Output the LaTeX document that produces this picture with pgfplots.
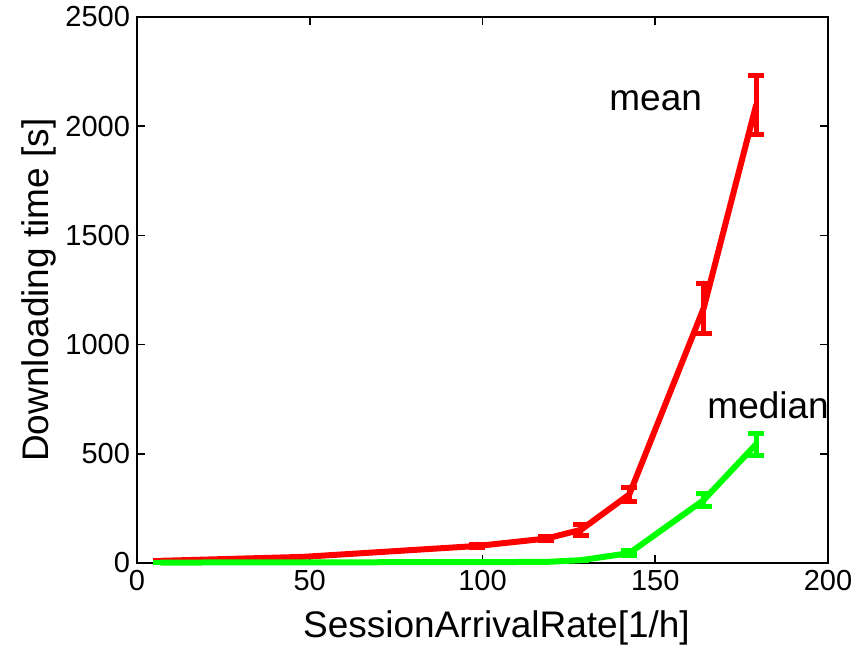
\documentclass[border=0pt]{standalone}
\usepackage{pgfplots}
\pgfplotsset{compat=1.18}
\usepackage{pgfplotstable}
\usepackage{fontspec}
\setmainfont{Liberation Sans}

% x  y  err
\pgfplotstableread{
x      y      ey
7      10     0
48     28     0
98.5   78     8
118.5  112    10
128.5  152    25
142.5  314    33
164    1166   115
179.2  2097   133
}\meantab

\pgfplotstableread{
x      y      ey
7      2      0
48     3      0
98.5   4      0
118.5  5      0
128.5  13     0
142.5  45     12
164    288    30
179.2  544    50
}\mediantab

\begin{document}
\begin{tikzpicture}
\begin{axis}[
  scale only axis,
  width=345.5pt, height=273pt,
  xmin=0, xmax=200, ymin=0, ymax=2500,
  xtick={0,50,...,200}, ytick={0,500,...,2500},
  tick align=inside,
  major tick length=4pt,
  axis line style={line width=1pt},
  every tick/.style={black, line width=0.8pt},
  /pgf/number format/assume math mode=true,
  /pgf/number format/1000 sep={},
  tick label style={font=\fontsize{14.5}{17}\selectfont},
  label style={font=\fontsize{18.5}{22}\selectfont},
  xlabel={SessionArrivalRate[1/h]},
  ylabel={Downloading time [s]},
  xlabel style={yshift=-3pt, xshift=7pt},
  ylabel style={yshift=-2pt},
  clip=false,
]
\addplot[red, line width=3pt, mark=none, line cap=round, line join=round,
  error bars/.cd, y dir=both, y explicit,
  error bar style={line width=2.5pt, red},
  error mark options={rotate=90, mark size=4pt, line width=2.5pt, red}]
  table[x=x, y=y, y error=ey] {\meantab};
\addplot[green, line width=3pt, mark=none, line cap=round, line join=round,
  error bars/.cd, y dir=both, y explicit,
  error bar style={line width=2.5pt, green},
  error mark options={rotate=90, mark size=4pt, line width=2.5pt, green}]
  table[x=x, y=y, y error=ey] {\mediantab};
\node[anchor=west, inner sep=0pt, font=\fontsize{18.5}{22}\selectfont] at (axis cs:136.6,2115) {mean};
\node[anchor=west, inner sep=0pt, font=\fontsize{18.5}{22}\selectfont] at (axis cs:165,723) {median};
\end{axis}
\path (current axis.south west) +(-68.5pt,-43pt) coordinate (bbA);
\path (current axis.north east) +(18pt,8.5pt) coordinate (bbB);
\path (bbA) rectangle (bbB);
\end{tikzpicture}
\end{document}
